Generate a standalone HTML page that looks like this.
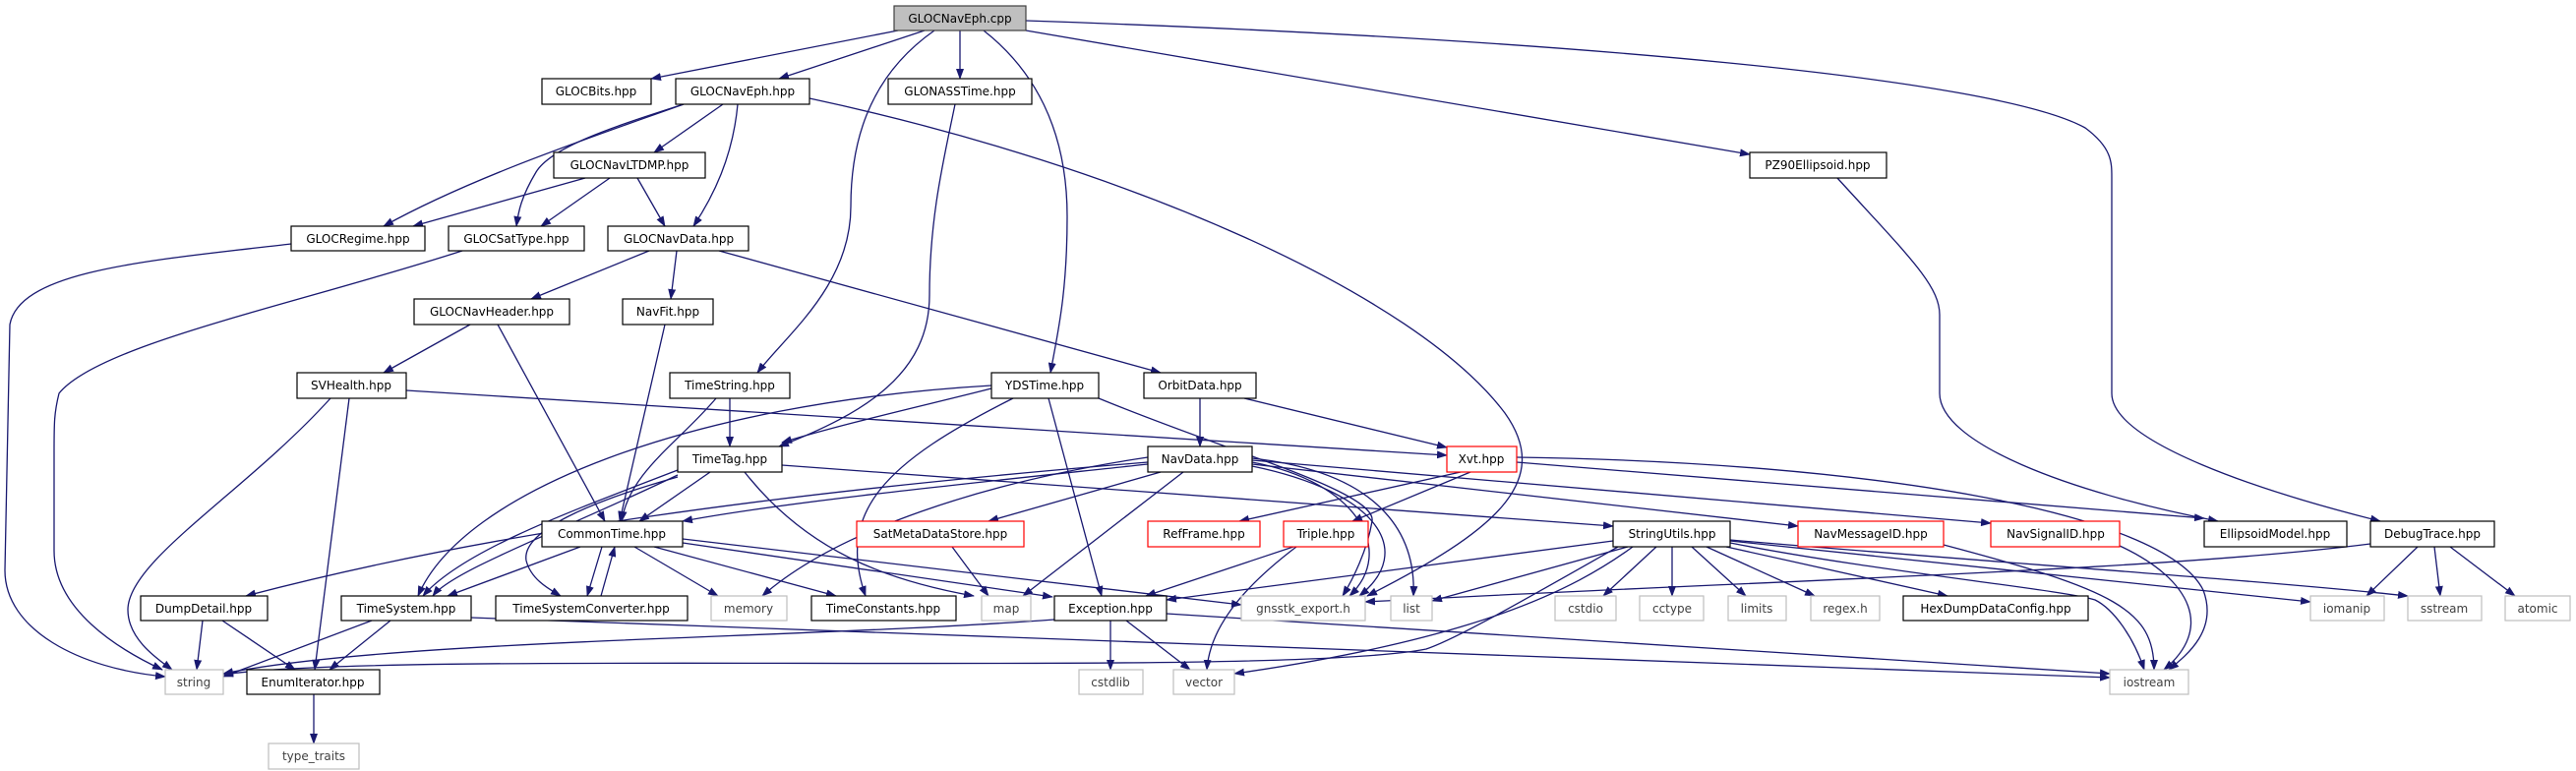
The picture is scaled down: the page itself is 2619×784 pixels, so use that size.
<!DOCTYPE html>
<html><head><meta charset="utf-8"><style>
html,body{margin:0;padding:0;background:#fff}
svg{display:block}
text{font-family:"DejaVu Sans","Liberation Sans",sans-serif;font-size:12px;fill:#000;text-anchor:middle}
.e{fill:none;stroke:#191970;stroke-width:1.3;marker-end:url(#a)}
.n{fill:#fff;stroke:#000;stroke-width:1.2}
.g{fill:#fff;stroke:#bfbfbf;stroke-width:1.2}
.r{fill:#fff;stroke:#ff0000;stroke-width:1.2}
.gt{fill:#404040}
</style></head><body>
<svg width="2619" height="784" viewBox="0 0 2619 784" xmlns="http://www.w3.org/2000/svg">
<defs><marker id="a" markerUnits="userSpaceOnUse" markerWidth="11" markerHeight="8" refX="10" refY="4" orient="auto"><path d="M0,0 L11,4 L0,8 z" fill="#191970"/></marker></defs>
<g>
<path class="e" d="M913,31 L662,80"/>
<path class="e" d="M940,31 L792,80"/>
<path class="e" d="M976,31 L976,80"/>
<path class="e" d="M950,31 C880,80 865,150 865,210 C865,290 800,340 770,379"/>
<path class="e" d="M1000,31 C1050,70 1085,130 1085,220 C1085,300 1075,340 1068,379"/>
<path class="e" d="M1043,31 L1779,157"/>
<path class="e" d="M1043,21 C1600,40 2030,80 2120,130 C2147,150 2147,165 2147,180 L2147,400 C2147,450 2300,500 2420,530"/>
<path class="e" d="M1868,181 C1940,260 1972,290 1972,320 L1972,400 C1972,450 2100,500 2255,530"/>
<path class="e" d="M735,106 L665,155"/>
<path class="e" d="M695,106 C600,140 480,180 390,230"/>
<path class="e" d="M695,106 C620,130 560,150 545,175 C530,200 527,215 525,230"/>
<path class="e" d="M750,106 C745,160 725,200 705,230"/>
<path class="e" d="M823,100 C1150,170 1440,300 1530,420 C1580,490 1520,540 1390,606"/>
<path class="e" d="M595,181 L420,230"/>
<path class="e" d="M620,181 L550,230"/>
<path class="e" d="M648,181 L676,230"/>
<path class="e" d="M971,106 C960,160 945,220 945,300 C945,380 880,420 792,454"/>
<path class="e" d="M296,248 C150,265 20,275 10,330 L5,580 C5,640 80,680 168,688"/>
<path class="e" d="M470,255 C300,310 100,350 60,400 C55,420 55,430 55,460 L55,560 C55,620 120,660 165,681"/>
<path class="e" d="M660,255 L540,304"/>
<path class="e" d="M688,255 L682,304"/>
<path class="e" d="M731,255 L1180,379"/>
<path class="e" d="M478,330 L390,379"/>
<path class="e" d="M506,330 L615,530"/>
<path class="e" d="M676,330 L630,530"/>
<path class="e" d="M336,405 C250,500 130,570 130,620 C130,650 160,670 175,681"/>
<path class="e" d="M355,405 L320,681"/>
<path class="e" d="M413,397 L1471,463"/>
<path class="e" d="M742,405 L742,454"/>
<path class="e" d="M728,405 C690,450 640,480 632,530"/>
<path class="e" d="M1008,395 C950,410 860,430 795,450"/>
<path class="e" d="M1008,392 C700,410 470,500 425,606"/>
<path class="e" d="M1030,405 C900,470 850,520 880,606"/>
<path class="e" d="M1066,405 L1120,606"/>
<path class="e" d="M1117,405 C1250,460 1400,500 1395,530 C1390,560 1375,590 1365,606"/>
<path class="e" d="M1220,405 L1220,454"/>
<path class="e" d="M1265,405 L1471,455"/>
<path class="e" d="M722,480 L650,530"/>
<path class="e" d="M689,478 C580,520 470,560 430,606"/>
<path class="e" d="M689,483 C570,540 460,580 440,606"/>
<path class="e" d="M689,485 C600,510 530,540 535,570 C540,590 560,600 570,606"/>
<path class="e" d="M757,480 C820,560 900,590 990,606"/>
<path class="e" d="M795,473 L1640,535"/>
<path class="e" d="M1167,472 C1000,490 800,510 694,530"/>
<path class="e" d="M1167,470 C800,500 500,540 250,606"/>
<path class="e" d="M1167,465 C1000,490 850,540 775,606"/>
<path class="e" d="M1180,480 L1005,530"/>
<path class="e" d="M1203,480 L1040,606"/>
<path class="e" d="M1273,470 C1380,490 1420,560 1372,606"/>
<path class="e" d="M1273,474 C1400,500 1440,560 1382,606"/>
<path class="e" d="M1273,466 C1400,480 1440,540 1437,606"/>
<path class="e" d="M1273,472 L1828,535"/>
<path class="e" d="M1273,468 L2024,532"/>
<path class="e" d="M1485,480 L1260,530"/>
<path class="e" d="M1495,480 L1375,530"/>
<path class="e" d="M1542,470 L2241,527"/>
<path class="e" d="M1542,465 C1900,470 2200,520 2240,600 C2255,640 2225,665 2205,681"/>
<path class="e" d="M590,556 L455,606"/>
<path class="e" d="M612,556 L597,606"/>
<path class="e" d="M611,606 L625,556"/>
<path class="e" d="M645,556 L730,606"/>
<path class="e" d="M665,556 L850,606"/>
<path class="e" d="M694,552 L1070,607"/>
<path class="e" d="M694,548 L1262,615"/>
<path class="e" d="M378,631 L227,688"/>
<path class="e" d="M397,631 L335,681"/>
<path class="e" d="M479,628 L2145,689"/>
<path class="e" d="M206,631 L200,681"/>
<path class="e" d="M226,631 L300,681"/>
<path class="e" d="M319,706 L319,756"/>
<path class="e" d="M1129,631 L1129,681"/>
<path class="e" d="M1145,631 L1210,681"/>
<path class="e" d="M1072,630 C800,650 400,650 227,685"/>
<path class="e" d="M1186,624 L2145,685"/>
<path class="e" d="M1315,556 L1165,606"/>
<path class="e" d="M1318,556 C1260,600 1230,640 1227,681"/>
<path class="e" d="M968,556 L1005,606"/>
<path class="e" d="M1640,550 L1186,610"/>
<path class="e" d="M1655,556 L1456,611"/>
<path class="e" d="M1684,556 L1630,606"/>
<path class="e" d="M1700,556 L1700,606"/>
<path class="e" d="M1720,556 L1775,606"/>
<path class="e" d="M1735,556 L1845,606"/>
<path class="e" d="M1755,556 L1980,606"/>
<path class="e" d="M1759,550 L2349,612"/>
<path class="e" d="M1759,549 C2000,570 2300,590 2448,606"/>
<path class="e" d="M1759,552 C1900,580 2100,600 2130,610 C2150,620 2170,650 2180,681"/>
<path class="e" d="M1645,556 C1550,610 1480,650 1450,660 C1300,690 400,660 227,686"/>
<path class="e" d="M1660,556 C1600,600 1500,650 1255,685"/>
<path class="e" d="M2410,553 C2200,580 1800,590 1388,612"/>
<path class="e" d="M2458,556 L2406,606"/>
<path class="e" d="M2475,556 L2481,606"/>
<path class="e" d="M2491,556 L2557,606"/>
<path class="e" d="M1976,554 C2150,600 2190,620 2190,681"/>
<path class="e" d="M2155,555 C2230,590 2250,640 2200,681"/>
</g>
<g>
<rect x="909" y="6" width="134" height="25" fill="#bfbfbf" stroke="#404040" stroke-width="1.2"/><text x="976" y="23">GLOCNavEph.cpp</text>
<rect class="n" x="551" y="80" width="111" height="26"/><text x="606" y="97">GLOCBits.hpp</text>
<rect class="n" x="687" y="80" width="136" height="26"/><text x="755" y="97">GLOCNavEph.hpp</text>
<rect class="n" x="903" y="80" width="146" height="26"/><text x="976" y="97">GLONASSTime.hpp</text>
<rect class="n" x="1779" y="155" width="139" height="26"/><text x="1848" y="172">PZ90Ellipsoid.hpp</text>
<rect class="n" x="563" y="155" width="154" height="26"/><text x="640" y="172">GLOCNavLTDMP.hpp</text>
<rect class="n" x="296" y="230" width="136" height="25"/><text x="364" y="247">GLOCRegime.hpp</text>
<rect class="n" x="456" y="230" width="138" height="25"/><text x="525" y="247">GLOCSatType.hpp</text>
<rect class="n" x="618" y="230" width="143" height="25"/><text x="690" y="247">GLOCNavData.hpp</text>
<rect class="n" x="421" y="304" width="158" height="26"/><text x="500" y="321">GLOCNavHeader.hpp</text>
<rect class="n" x="633" y="304" width="92" height="26"/><text x="679" y="321">NavFit.hpp</text>
<rect class="n" x="302" y="379" width="111" height="26"/><text x="357" y="396">SVHealth.hpp</text>
<rect class="n" x="681" y="379" width="122" height="26"/><text x="742" y="396">TimeString.hpp</text>
<rect class="n" x="1008" y="379" width="109" height="26"/><text x="1062" y="396">YDSTime.hpp</text>
<rect class="n" x="1163" y="379" width="114" height="26"/><text x="1220" y="396">OrbitData.hpp</text>
<rect class="n" x="689" y="454" width="106" height="26"/><text x="742" y="471">TimeTag.hpp</text>
<rect class="n" x="1167" y="454" width="106" height="26"/><text x="1220" y="471">NavData.hpp</text>
<rect class="r" x="1471" y="454" width="71" height="26"/><text x="1506" y="471">Xvt.hpp</text>
<rect class="n" x="551" y="530" width="143" height="26"/><text x="622" y="547">CommonTime.hpp</text>
<rect class="r" x="871" y="530" width="170" height="26"/><text x="956" y="547">SatMetaDataStore.hpp</text>
<rect class="r" x="1167" y="530" width="114" height="26"/><text x="1224" y="547">RefFrame.hpp</text>
<rect class="r" x="1305" y="530" width="86" height="26"/><text x="1348" y="547">Triple.hpp</text>
<rect class="n" x="1640" y="530" width="119" height="26"/><text x="1700" y="547">StringUtils.hpp</text>
<rect class="r" x="1828" y="530" width="148" height="26"/><text x="1902" y="547">NavMessageID.hpp</text>
<rect class="r" x="2024" y="530" width="131" height="26"/><text x="2090" y="547">NavSignalID.hpp</text>
<rect class="n" x="2241" y="530" width="145" height="26"/><text x="2313" y="547">EllipsoidModel.hpp</text>
<rect class="n" x="2410" y="530" width="126" height="26"/><text x="2473" y="547">DebugTrace.hpp</text>
<rect class="n" x="143" y="606" width="129" height="25"/><text x="207" y="623">DumpDetail.hpp</text>
<rect class="n" x="347" y="606" width="132" height="25"/><text x="413" y="623">TimeSystem.hpp</text>
<rect class="n" x="504" y="606" width="195" height="25"/><text x="601" y="623">TimeSystemConverter.hpp</text>
<rect class="g" x="723" y="606" width="77" height="25"/><text class="gt" x="761" y="623">memory</text>
<rect class="n" x="825" y="606" width="147" height="25"/><text x="898" y="623">TimeConstants.hpp</text>
<rect class="g" x="998" y="606" width="50" height="25"/><text class="gt" x="1023" y="623">map</text>
<rect class="n" x="1072" y="606" width="114" height="25"/><text x="1129" y="623">Exception.hpp</text>
<rect class="g" x="1262" y="606" width="126" height="25"/><text class="gt" x="1325" y="623">gnsstk_export.h</text>
<rect class="g" x="1414" y="606" width="42" height="25"/><text class="gt" x="1435" y="623">list</text>
<rect class="g" x="1581" y="606" width="62" height="25"/><text class="gt" x="1612" y="623">cstdio</text>
<rect class="g" x="1667" y="606" width="65" height="25"/><text class="gt" x="1700" y="623">cctype</text>
<rect class="g" x="1757" y="606" width="59" height="25"/><text class="gt" x="1786" y="623">limits</text>
<rect class="g" x="1841" y="606" width="70" height="25"/><text class="gt" x="1876" y="623">regex.h</text>
<rect class="n" x="1935" y="606" width="188" height="25"/><text x="2029" y="623">HexDumpDataConfig.hpp</text>
<rect class="g" x="2349" y="606" width="75" height="25"/><text class="gt" x="2386" y="623">iomanip</text>
<rect class="g" x="2448" y="606" width="75" height="25"/><text class="gt" x="2485" y="623">sstream</text>
<rect class="g" x="2547" y="606" width="66" height="25"/><text class="gt" x="2580" y="623">atomic</text>
<rect class="g" x="168" y="681" width="59" height="25"/><text class="gt" x="197" y="698">string</text>
<rect class="n" x="251" y="681" width="135" height="25"/><text x="318" y="698">EnumIterator.hpp</text>
<rect class="g" x="1097" y="681" width="65" height="25"/><text class="gt" x="1129" y="698">cstdlib</text>
<rect class="g" x="1193" y="681" width="62" height="25"/><text class="gt" x="1224" y="698">vector</text>
<rect class="g" x="2145" y="681" width="80" height="25"/><text class="gt" x="2185" y="698">iostream</text>
<rect class="g" x="273" y="756" width="92" height="26"/><text class="gt" x="319" y="773">type_traits</text>
</g>
</svg>
</body></html>
